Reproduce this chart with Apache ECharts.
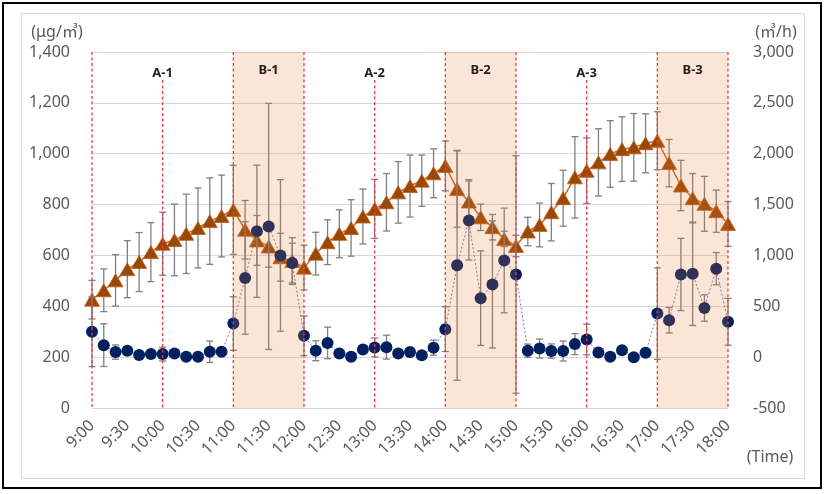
<!DOCTYPE html>
<html>
<head>
<meta charset="utf-8">
<script src="https://cdn.jsdelivr.net/npm/echarts@6/dist/echarts.min.js"></script>
<style>
html,body{margin:0;padding:0;background:#fff;}
#chart{width:827px;height:494px;}
</style>
</head>
<body>
<div id="chart"></div>
<script>
// ---- data ----
const times = ['9:00','9:10','9:20','9:30','9:40','9:50','10:00','10:10','10:20','10:30','10:40','10:50',
 '11:00','11:10','11:20','11:30','11:40','11:50','12:00','12:10','12:20','12:30','12:40','12:50',
 '13:00','13:10','13:20','13:30','13:40','13:50','14:00','14:10','14:20','14:30','14:40','14:50',
 '15:00','15:10','15:20','15:30','15:40','15:50','16:00','16:10','16:20','16:30','16:40','16:50',
 '17:00','17:10','17:20','17:30','17:40','17:50','18:00'];
// concentration (µg/m³), left axis
const concValues = [426,463,502,546,574,613,646,661,685,708,735,755,
 779,701,659,635,593,578,552,607,652,685,708,753,
 783,809,848,873,894,923,952,861,812,750,711,665,
 637,694,720,770,825,907,933,966,999,1018,1025,1041,
 1051,963,875,825,803,774,724];
const concErr = [76,84,101,112,116,116,124,141,156,157,170,161,
 175,115,98,81,94,92,88,84,88,94,111,108,
 116,113,121,122,101,96,98,150,86,52,50,30,
 42,56,86,113,110,160,129,132,131,127,133,116,
 114,93,99,97,108,83,88];
// air flow (m³/h), right axis
const flowValues = [250,118,50,63,20,30,30,35,3,3,53,53,
 330,778,1238,1285,1000,925,210,63,140,35,3,75,
 95,98,35,50,18,93,275,903,1343,580,715,950,
 813,63,85,60,60,128,173,45,3,68,0,43,
 428,363,813,820,483,870,348];
const flowErr = [343,210,70,38,25,25,68,25,20,20,105,25,
 263,553,650,1210,745,195,195,98,155,25,25,25,
 93,118,25,25,25,75,220,1130,388,465,625,515,
 1168,65,93,70,98,103,150,25,25,25,25,25,
 450,125,355,508,130,158,230];
// periods
const periodB = [[12,18],[30,36],[48,54]];
const hourLinesFull = [0,12,18,30,36,48,54];
const hourLinesMid = [6,24,42];
const periodLabels = [['A-1',6.05,'A'],['B-1',15,'B'],['A-2',24.3,'A'],['B-2',33,'B'],['A-3',42.3,'A'],['B-3',51.1,'B']];

const FONT = "'Noto Sans','Noto Sans CJK KR',sans-serif";
const chart = echarts.init(document.getElementById('chart'));

function errRender(color){
  return function(params, api){
    const i = api.value(0), v = api.value(1), e = api.value(2);
    const t = api.coord([i, v + e]), b = api.coord([i, v - e]);
    const hw = 3.5;
    const st = {stroke: color, lineWidth: 1.3};
    return {type:'group', children:[
      {type:'line', shape:{x1:t[0],y1:t[1],x2:b[0],y2:b[1]}, style:st},
      {type:'line', shape:{x1:t[0]-hw,y1:t[1],x2:t[0]+hw,y2:t[1]}, style:st},
      {type:'line', shape:{x1:b[0]-hw,y1:b[1],x2:b[0]+hw,y2:b[1]}, style:st}
    ]};
  };
}

const option = {
  backgroundColor:'#fff',
  animation:false,
  grid:{left:92, top:52, width:636, height:356, containLabel:false},
  xAxis:{type:'category', data:times, boundaryGap:false,
    axisLine:{show:false}, axisTick:{show:false}, splitLine:{show:false},
    axisLabel:{interval:2, rotate:45, fontSize:16, color:'#595959', fontFamily:FONT, margin:15}},
  yAxis:[
    {type:'value', min:0, max:1400, interval:200, position:'left',
     axisLine:{show:false}, axisTick:{show:false},
     splitLine:{lineStyle:{color:'#D9D9D9', width:1}},
     axisLabel:{fontSize:16, color:'#595959', fontFamily:FONT, margin:22,
       formatter:v=>v.toLocaleString('en-US')}},
    {type:'value', min:-500, max:3000, interval:500, position:'right',
     axisLine:{show:false}, axisTick:{show:false}, splitLine:{show:false},
     axisLabel:{fontSize:16, color:'#595959', fontFamily:FONT, margin:25,
       formatter:v=>v.toLocaleString('en-US')}}
  ],
  series:[
    {type:'custom', yAxisIndex:0, z:2, renderItem:errRender('#7F7F7F'),
     data:concValues.map((v,i)=>[i,v,concErr[i]]), encode:{x:0,y:1}, silent:true},
    {type:'line', yAxisIndex:0, z:3, data:concValues, symbol:'triangle', symbolSize:[15,13],
     showAllSymbol:true,
     lineStyle:{color:'#C46A30', width:1.5},
     itemStyle:{color:'#984807', borderColor:'#C55A11', borderWidth:0.8}},
    {type:'custom', yAxisIndex:1, z:4, renderItem:errRender('#7F7F7F'),
     data:flowValues.map((v,i)=>[i,v,flowErr[i]]), encode:{x:0,y:1}, silent:true},
    {type:'line', yAxisIndex:1, z:5, data:flowValues, symbol:'circle', symbolSize:12,
     showAllSymbol:true,
     lineStyle:{color:'#6C7DA8', width:1, type:[2,2]},
     itemStyle:{color:'#002060', borderWidth:0}},
    // shading overlay
    {type:'custom', yAxisIndex:0, z:10, silent:true, data:periodB,
     renderItem:function(params, api){
       const a = api.coord([api.value(0),1400]), b = api.coord([api.value(1),0]);
       return {type:'rect', shape:{x:a[0], y:a[1], width:b[0]-a[0], height:b[1]-a[1]},
         style:{fill:'rgba(237,125,49,0.2)'}};
     }},
    // red dashed lines
    {type:'custom', yAxisIndex:0, z:11, silent:true,
     data:hourLinesFull.map(h=>[h,1400]).concat(hourLinesMid.map(h=>[h,1290])),
     renderItem:function(params, api){
       const a = api.coord([api.value(0),api.value(1)]), b = api.coord([api.value(0),0]);
       return {type:'line', shape:{x1:a[0],y1:a[1],x2:b[0],y2:b[1]},
         style:{stroke:'#F03C3C', lineWidth:1.3, lineDash:[3,2.5]}};
     }},
    // period labels
    {type:'custom', yAxisIndex:0, z:12, silent:true,
     data:periodLabels.map(p=>[p[1], p[2]==='A'?1315:1328, p[0]]),
     renderItem:function(params, api){
       const p = api.coord([api.value(0), api.value(1)]);
       return {type:'text', x:p[0], y:p[1],
         style:{text:periodLabels[params.dataIndex][0], fill:'#222', fontSize:13, fontFamily:FONT,
           fontWeight:'bold', align:'center', verticalAlign:'middle'}};
     }}
  ],
  graphic:[
    {type:'rect', shape:{x:3,y:3,width:818,height:485}, style:{fill:'none', stroke:'#000', lineWidth:2}, z:100},
    {type:'rect', shape:{x:21.5,y:13.5,width:783,height:465}, style:{fill:'none', stroke:'#D9D9D9', lineWidth:1}, z:100},
    {type:'text', x:57, y:32, style:{text:'(μg/㎥)', fill:'#595959', fontSize:16, fontFamily:FONT, align:'center', verticalAlign:'middle'}},
    {type:'text', x:776, y:32, style:{text:'(㎥/h)', fill:'#595959', fontSize:16, fontFamily:FONT, align:'center', verticalAlign:'middle'}},
    {type:'text', x:770, y:457, style:{text:'(Time)', fill:'#595959', fontSize:16, fontFamily:FONT, align:'center', verticalAlign:'middle'}}
  ]
};
chart.setOption(option);
</script>
</body>
</html>
